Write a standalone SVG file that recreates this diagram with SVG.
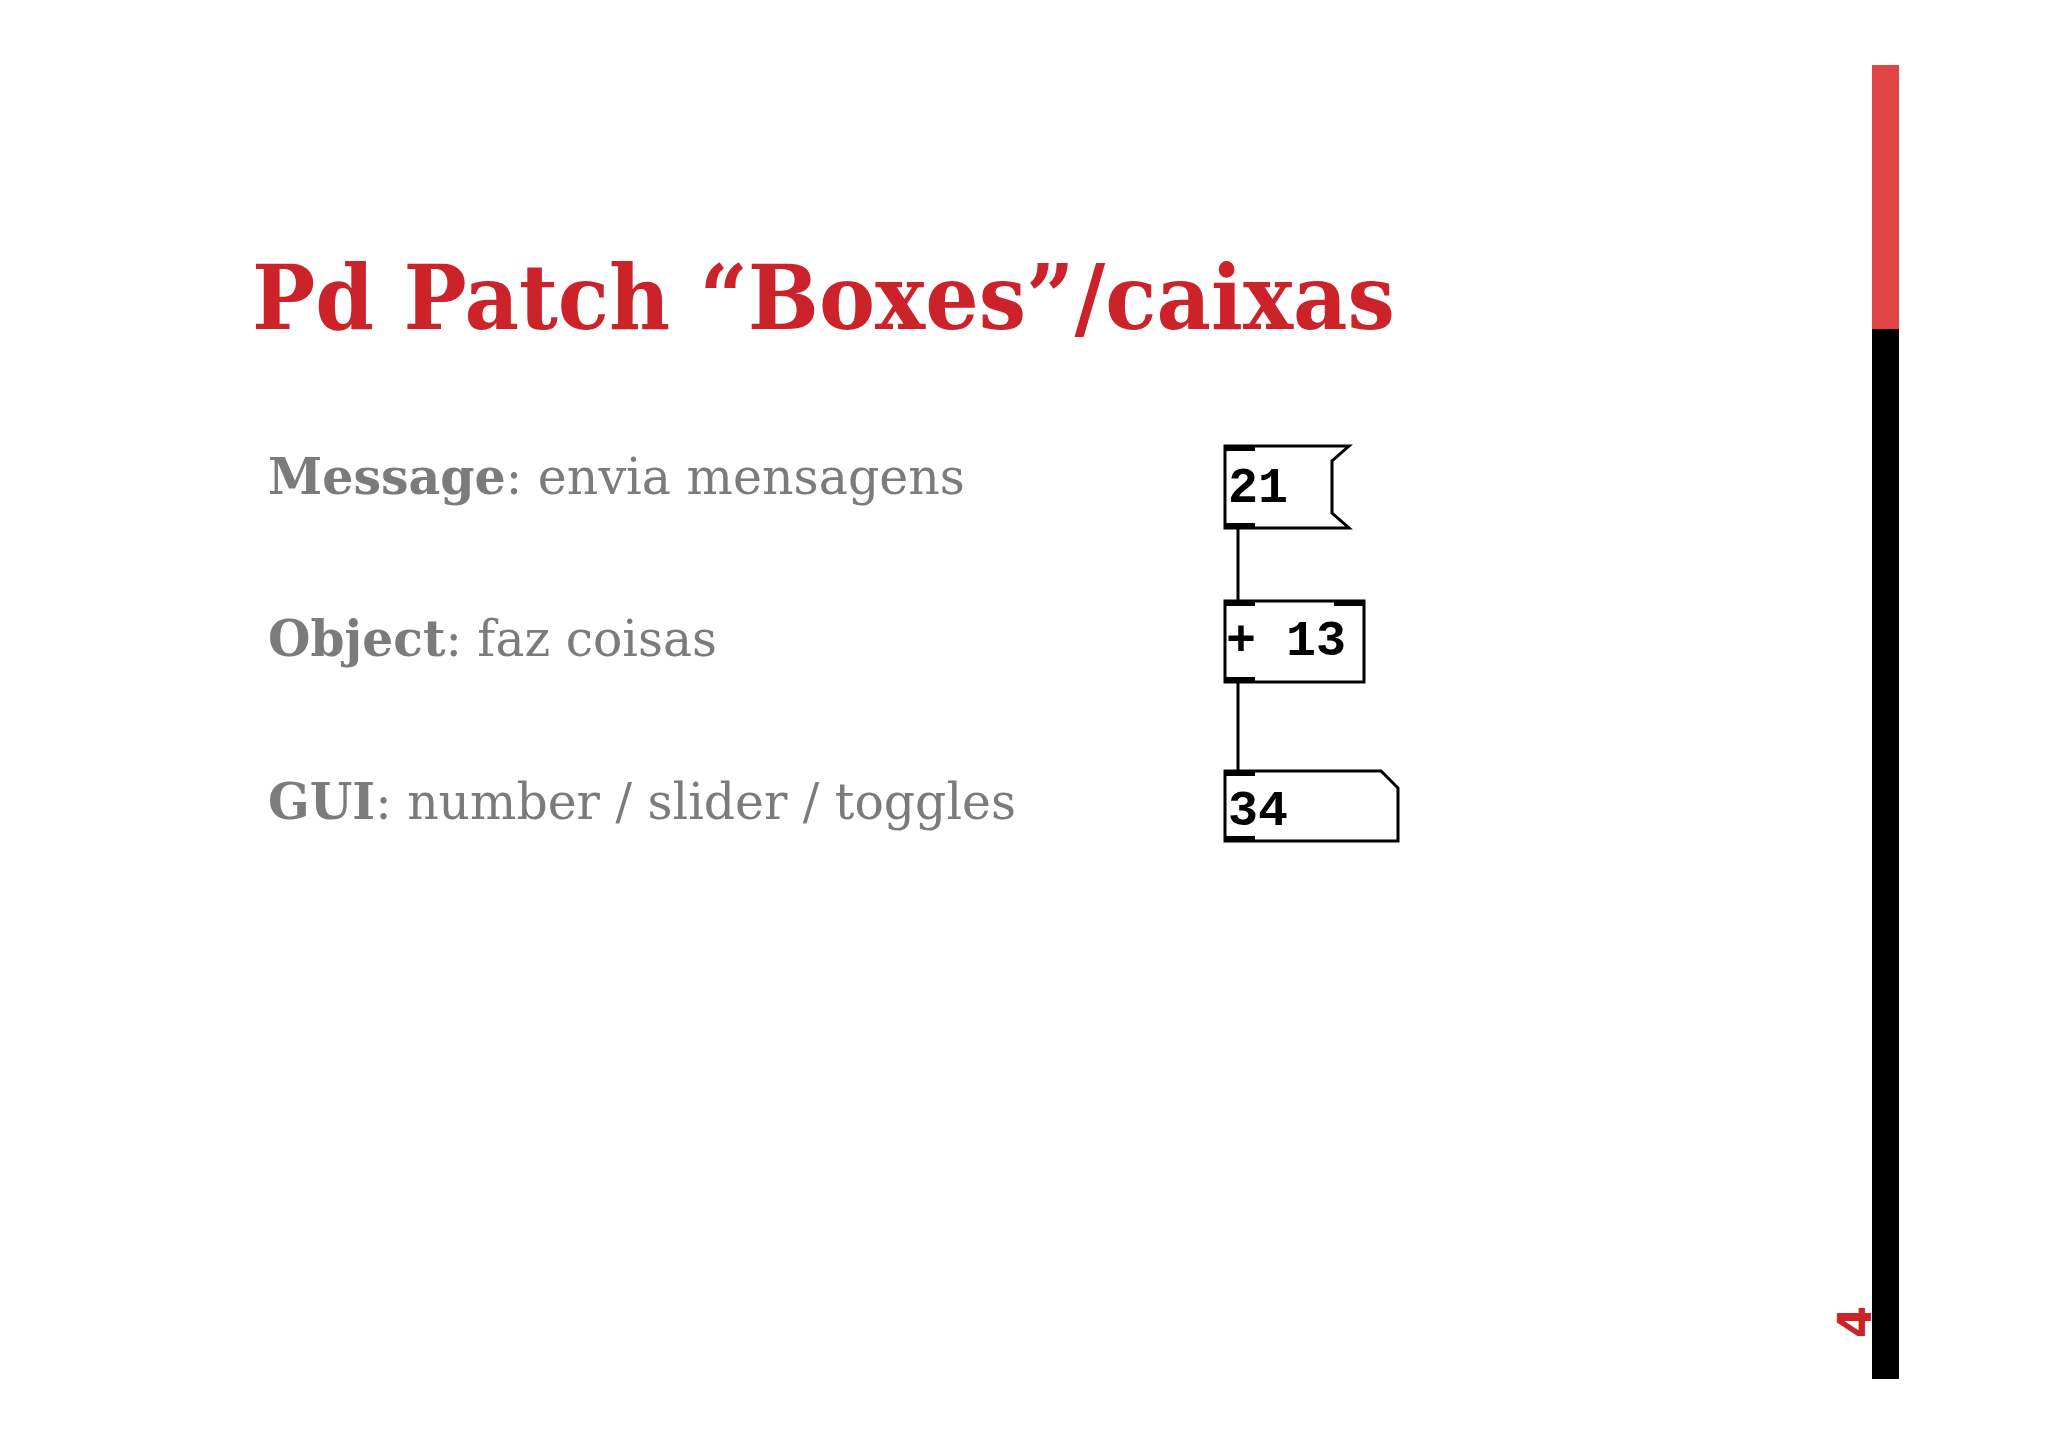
<svg xmlns="http://www.w3.org/2000/svg" width="2048" height="1448" viewBox="0 0 2048 1448">
<style>
.t{font-family:"DejaVu Serif","Liberation Serif",serif;fill:#7b7b7b;font-size:50px}
.b{font-weight:bold}
.pd{fill:#fff;stroke:#000;stroke-width:3}
.pt{font-family:"Liberation Mono","DejaVu Sans Mono",monospace;font-weight:bold;font-size:50px;fill:#000}
.io{fill:#000}
</style>
<rect width="2048" height="1448" fill="#fff"/>
<rect x="1872" y="65" width="27" height="265" fill="#e04444"/>
<rect x="1872" y="329" width="27" height="1050" fill="#000"/>
<text transform="translate(1871,1322) rotate(-90)" font-family="DejaVu Sans,sans-serif" font-weight="bold" font-size="46" fill="#cc2229" text-anchor="middle">4</text>
<text x="252" y="329" font-family="DejaVu Serif,serif" font-weight="bold" font-size="90" fill="#cc2229" textLength="1143" lengthAdjust="spacingAndGlyphs">Pd Patch “Boxes”/caixas</text>
<text class="t" x="268" y="494" textLength="697" lengthAdjust="spacingAndGlyphs"><tspan class="b">Message</tspan>:  envia mensagens</text>
<text class="t" x="268" y="656" textLength="449" lengthAdjust="spacingAndGlyphs"><tspan class="b">Object</tspan>:  faz coisas</text>
<text class="t" x="268" y="819" textLength="748" lengthAdjust="spacingAndGlyphs"><tspan class="b">GUI</tspan>: number / slider / toggles</text>
<g id="connectors" stroke="#000" stroke-width="3">
<line x1="1238" y1="528" x2="1238" y2="601"/>
<line x1="1238" y1="682" x2="1238" y2="771"/>
</g>
<g id="msg">
<path class="pd" d="M1225 446H1349L1332 461V513L1349 528H1225Z"/>
<rect class="io" x="1225" y="445" width="30" height="6"/>
<rect class="io" x="1225" y="523" width="30" height="6"/>
<text class="pt" x="1228" y="502">21</text>
</g>
<g id="obj">
<rect class="pd" x="1225" y="601" width="139" height="81"/>
<rect class="io" x="1225" y="600" width="30" height="6"/>
<rect class="io" x="1334" y="600" width="30" height="6"/>
<rect class="io" x="1225" y="677" width="30" height="6"/>
<text class="pt" x="1226" y="655">+ 13</text>
</g>
<g id="num">
<path class="pd" d="M1225 771H1381L1398 788V841H1225Z"/>
<rect class="io" x="1225" y="770" width="30" height="6"/>
<rect class="io" x="1225" y="836" width="30" height="6"/>
<text class="pt" x="1228" y="825">34</text>
</g>
</svg>
